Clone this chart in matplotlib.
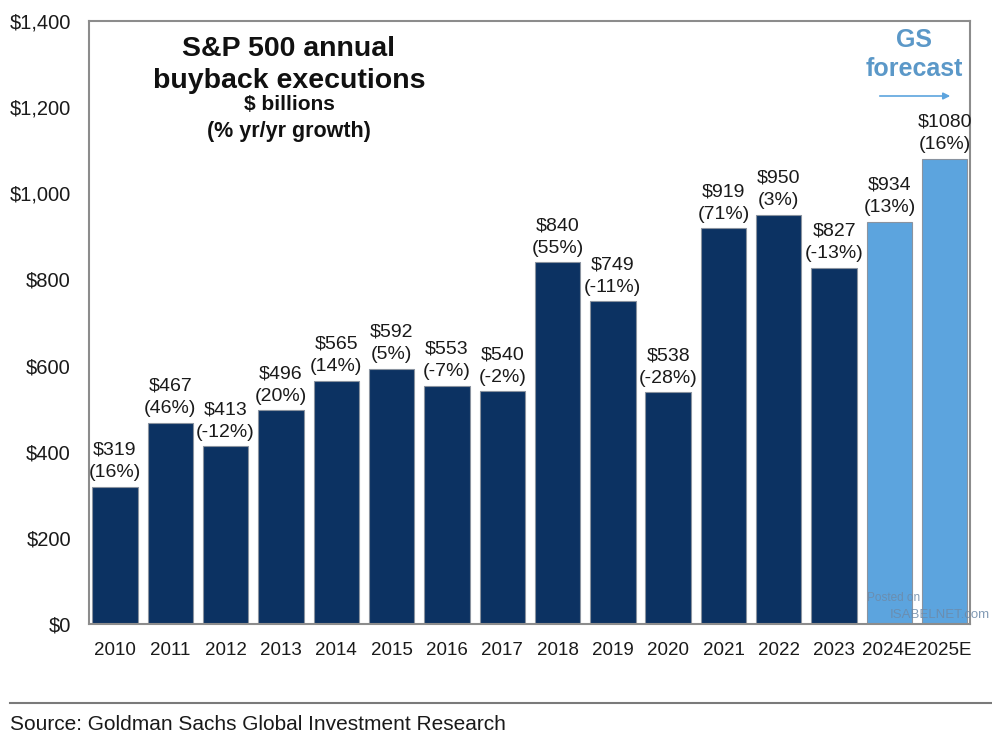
import matplotlib
matplotlib.use("Agg")
import matplotlib.pyplot as plt
from matplotlib.lines import Line2D

plt.rcParams['font.family'] = ['Liberation Sans', 'DejaVu Sans']

years = ["2010", "2011", "2012", "2013", "2014", "2015", "2016", "2017",
         "2018", "2019", "2020", "2021", "2022", "2023", "2024E", "2025E"]
buybacks = [319, 467, 413, 496, 565, 592, 553, 540, 840, 749, 538, 919, 950, 827, 934, 1080]
growth = ["16%", "46%", "-12%", "20%", "14%", "5%", "-7%", "-2%",
          "55%", "-11%", "-28%", "71%", "3%", "-13%", "13%", "16%"]
is_forecast = [False] * 14 + [True] * 2
yticks = [0, 200, 400, 600, 800, 1000, 1200, 1400]
ytick_labels = ["$0", "$200", "$400", "$600", "$800", "$1,000", "$1,200", "$1,400"]

dark = "#0c3262"
light = "#5ca4de"

fig = plt.figure(figsize=(9.92, 7.48), dpi=100)
ax = fig.add_axes([0.0897, 0.1658, 0.978 - 0.0897, 0.972 - 0.1658])

x = list(range(len(years)))
colors = [light if f else dark for f in is_forecast]
bars = ax.bar(x, buybacks, width=0.82, color=colors, edgecolor="#8a93a0", linewidth=0.8)

for xi, v, g in zip(x, buybacks, growth):
    ax.annotate(f"${v}\n({g})", (xi, v), xytext=(0, 4), textcoords="offset points",
                ha="center", va="bottom", fontsize=14, color="#1a1a1a", linespacing=1.42)

ax.set_xlim(-0.47, 15.46)
ax.set_ylim(0, 1400)
ax.set_yticks(yticks)
ax.set_yticklabels(ytick_labels, fontsize=14.5, color="#1a1a1a")
ax.set_xticks(x)
ax.set_xticklabels(years, fontsize=13.5, color="#1a1a1a")
ax.tick_params(axis="both", length=0)
ax.tick_params(axis="y", pad=13)
ax.tick_params(axis="x", pad=13)
for s in ax.spines.values():
    s.set_color("#8c8c8c")
    s.set_linewidth(1.5)

# Title block
fig.text(289 / 992, 1 - 49 / 748, "S&P 500 annual", ha="center", va="center",
         fontsize=20.5, fontweight="bold", color="#111111")
fig.text(289 / 992, 1 - 81 / 748, "buyback executions", ha="center", va="center",
         fontsize=20.5, fontweight="bold", color="#111111")
fig.text(289 / 992, 1 - 105 / 748, "$ billions", ha="center", va="center",
         fontsize=15, fontweight="bold", color="#111111")
fig.text(289 / 992, 1 - 131 / 748, "(% yr/yr growth)", ha="center", va="center",
         fontsize=15.5, fontweight="bold", color="#111111")

# GS forecast
gs_color = "#5b98c8"
fig.text(914 / 992, 1 - 40 / 748, "GS", ha="center", va="center",
         fontsize=18, fontweight="bold", color=gs_color)
fig.text(914 / 992, 1 - 69 / 748, "forecast", ha="center", va="center",
         fontsize=18, fontweight="bold", color=gs_color)
ax.annotate("", xy=(953 / 992, 1 - 96 / 748), xytext=(877 / 992, 1 - 96 / 748),
            xycoords="figure fraction", textcoords="figure fraction",
            arrowprops=dict(arrowstyle="-|>", color="#5ca4de", lw=1.2, mutation_scale=10))

# Watermark
fig.text(867 / 992, 1 - 598 / 748, "Posted on", ha="left", va="center",
         fontsize=8.5, color="#6d8aa8", alpha=0.85)
fig.text(890 / 992, 1 - 615 / 748, "ISABELNET.com", ha="left", va="center",
         fontsize=9.5, color="#6d8aa8", alpha=0.85)

# Source line
fig.add_artist(Line2D([10 / 992, 1.0], [1 - 703 / 748, 1 - 703 / 748],
                      transform=fig.transFigure, color="#7a7a7a", lw=1.5))
fig.text(10 / 992, 1 - 724 / 748, "Source: Goldman Sachs Global Investment Research",
         ha="left", va="center", fontsize=15, color="#1a1a1a")

fig.savefig("out.png", dpi=100)
